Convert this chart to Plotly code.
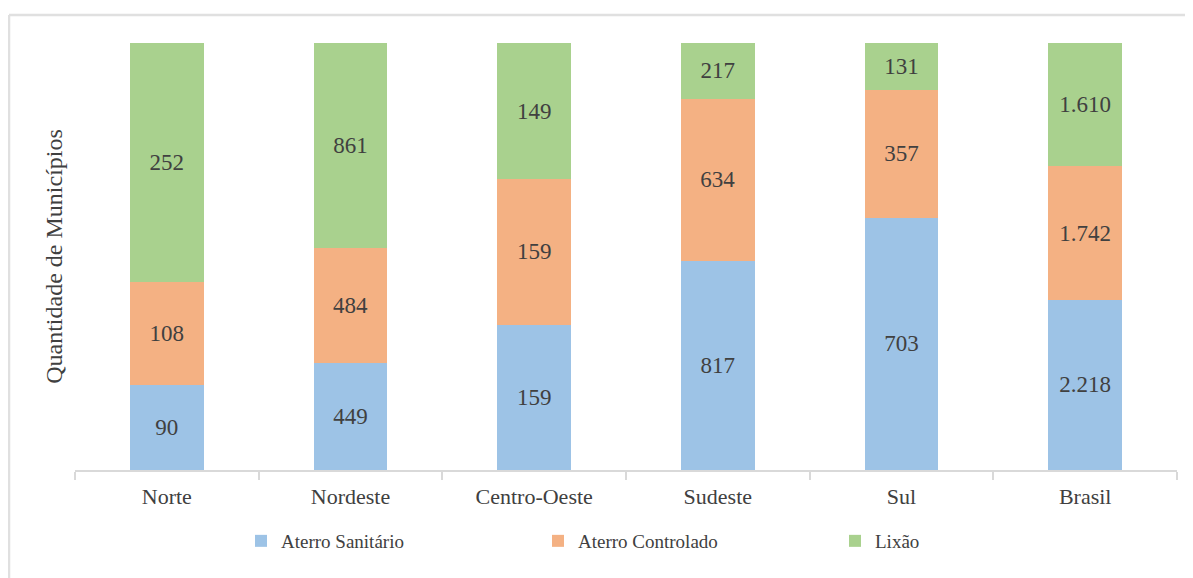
import plotly.graph_objects as go

categorias = ["Norte", "Nordeste", "Centro-Oeste", "Sudeste", "Sul", "Brasil"]
aterro_sanitario = [90, 449, 159, 817, 703, 2218]
aterro_controlado = [108, 484, 159, 634, 357, 1742]
lixao = [252, 861, 149, 217, 131, 1610]

series = [
    ("Aterro Sanitário", aterro_sanitario, "#9dc3e6"),
    ("Aterro Controlado", aterro_controlado, "#f4b183"),
    ("Lixão", lixao, "#a9d18e"),
]

def fmt(v):
    return f"{v:,}".replace(",", ".")

FONT = "Liberation Serif, Times New Roman, serif"
TXT = "#404040"

fig = go.Figure()
for nome, vals, cor in series:
    fig.add_trace(go.Bar(
        x=categorias, y=vals, name=nome,
        marker=dict(color=cor, line=dict(width=0)),
        width=0.4,
        text=[fmt(v) for v in vals],
        textposition="inside", insidetextanchor="middle", textangle=0,
        constraintext="none",
        textfont=dict(family=FONT, size=23, color=TXT),
        hoverinfo="skip",
    ))

# page body has an 8px margin, so the figure is sized 8px smaller
OFF = 8
W, H = 1193 - OFF, 578 - OFF
L, T = 75 - OFF, 43 - OFF
R = 16
B = H - (470 - OFF)
pw, ph = W - L - R, H - T - B

def px_x(x):
    return (x - OFF - L) / pw

def px_y(y):
    return (H - B - (y - OFF)) / ph

fig.update_layout(
    barmode="stack", barnorm="percent",
    width=W, height=H,
    margin=dict(l=L, r=R, t=T, b=B),
    paper_bgcolor="white", plot_bgcolor="white",
    font=dict(family=FONT, color=TXT),
    showlegend=True,
    legend=dict(
        orientation="h", x=px_x(241), xanchor="left",
        y=px_y(541), yanchor="middle",
        entrywidth=252, entrywidthmode="pixels",
        font=dict(family=FONT, size=19, color=TXT),
        itemwidth=30, traceorder="normal",
    ),
    xaxis=dict(
        showline=True, linecolor="#d9d9d9", linewidth=2,
        ticks="outside", tickson="boundaries", ticklen=8, tickcolor="#d9d9d9",
        tickwidth=2, ticklabelstandoff=6,
        tickfont=dict(family=FONT, size=22, color=TXT),
        showgrid=False,
    ),
    yaxis=dict(
        range=[0, 100], showticklabels=False, showgrid=False, zeroline=False,
        showline=False, ticks="",
        title=dict(text="Quantidade de Municípios",
                   font=dict(family=FONT, size=24, color=TXT), standoff=4),
    ),
    shapes=[
        dict(type="line", xref="paper", yref="paper",
             x0=px_x(9), x1=px_x(1200), y0=px_y(15), y1=px_y(15),
             line=dict(color="#e0e0e0", width=2.5)),
        dict(type="line", xref="paper", yref="paper",
             x0=px_x(9), x1=px_x(9), y0=px_y(15), y1=px_y(590),
             line=dict(color="#e0e0e0", width=2.5)),
    ],
)

fig.write_html("out.html")
